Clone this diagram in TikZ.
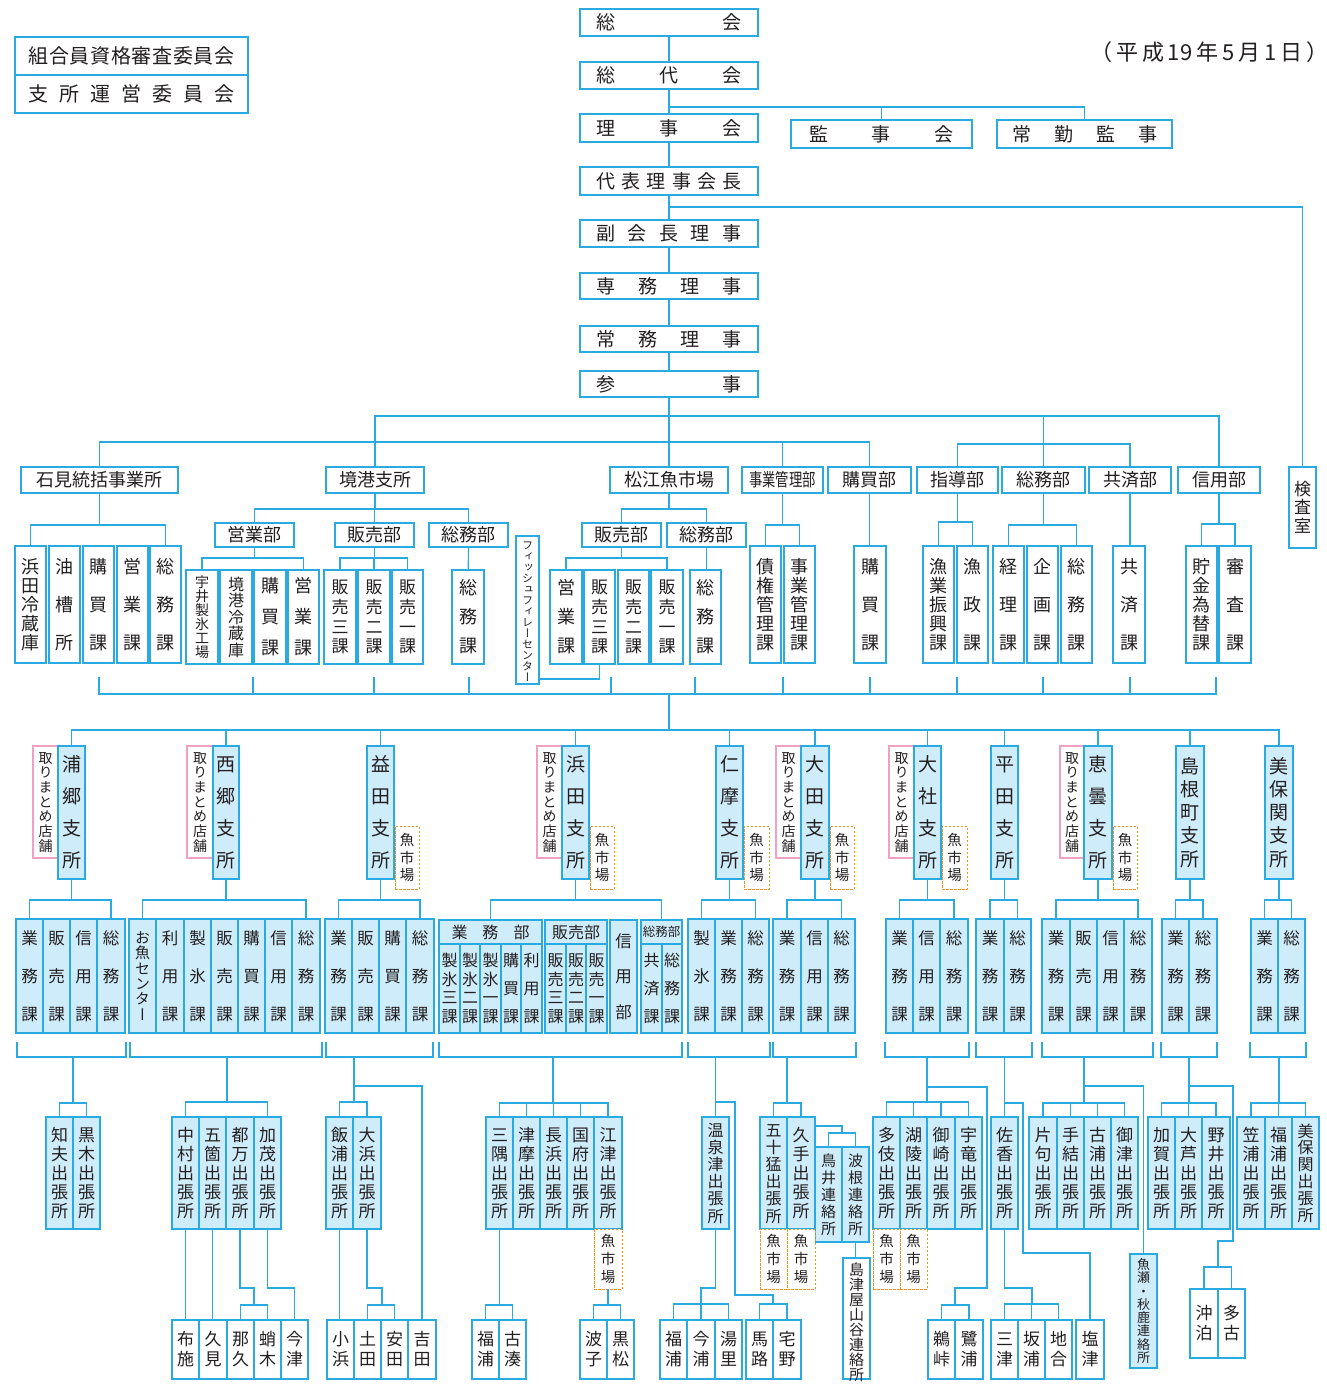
\documentclass[tikz,border=0pt]{standalone}
\usepackage{fontspec}
\usepackage{graphicx}
\setmainfont{Noto Sans CJK JP}
\newfontfamily\vjp[RawFeature=+vert]{Noto Sans CJK JP}
\definecolor{cy}{RGB}{41,171,226}
\definecolor{lb}{RGB}{206,236,250}
\definecolor{pk}{RGB}{240,160,195}
\definecolor{orn}{RGB}{247,148,30}
\definecolor{tx}{RGB}{35,31,32}
\ExplSyntaxOn
\seq_new:N \l_rs_items_seq
\NewDocumentCommand\hspread{mm}
 {
  \seq_clear:N \l_rs_items_seq
  \tl_map_inline:nn {#2} { \seq_put_right:Nn \l_rs_items_seq {##1} }
  \hbox to #1 { \seq_use:Nn \l_rs_items_seq { \hfil } }
 }
\NewDocumentCommand\vstack{mm}
 {
  \seq_clear:N \l_rs_items_seq
  \tl_map_inline:nn {#2}
   { \seq_put_right:Nn \l_rs_items_seq { \hbox to 0pt { \hss \vrule height .88em depth .12em width 0pt ##1 \hss } } }
  \vbox to #1 { \offinterlineskip \seq_use:Nn \l_rs_items_seq { \vfil } \kern 0pt }
 }
\ExplSyntaxOff
\newcommand\fs[1]{\fontsize{#1}{#1}\selectfont}
\newcommand\VT[3]{{\vjp\fs{#1}\vstack{#2pt}{#3}}}
\tikzset{
 bxs/.style={draw=cy, line width=1.3pt, fill=white, inner sep=0pt, outer sep=0pt, text=tx},
 lbx/.style={fill=lb},
 pbx/.style={draw=pk},
 fbx/.style={draw=orn, line width=1pt, dash pattern=on 2.5pt off 1.5pt},
 ln/.style={draw=cy, line width=1.2pt},
}
\newcommand\mybx[7][]{\node[bxs,#1,minimum width={(#5-#3)*1pt},minimum height={(#6-#4)*1pt}] (#2) at ({(#3+#5)/2},{(#4+#6)/2}) {#7};}
\newcommand\sbx[4]{\mybx[lbx]{#1}{#2}{919}{#3}{1033}{\VT{16.5}{92}{#4}}}
\newcommand\hsb[4]{\mybx[lbx]{#1}{#2}{944}{#3}{1033}{\VT{16}{72}{#4}}}
\newcommand\dbx[4]{\mybx[lbx]{#1}{#2}{1117}{#3}{1229}{\VT{17}{93}{#4}}}
\newcommand\leafbx[4]{\mybx{#1}{#2}{1320}{#3}{1379}{\VT{17}{37}{#4}}}
\newcommand\pinkbx[3]{\mybx[pbx]{#1}{#2}{746}{#3}{858}{\VT{14}{102}{取りまとめ店舗}}}
\newcommand\fishbx[5]{\mybx[fbx]{#1}{#2}{#3}{#4}{#5}{\VT{14.5}{50}{魚市場}}}
\newcommand\brbx[5]{\mybx[lbx]{#1}{#2}{746}{#3}{879}{\VT{19}{#4}{#5}}}
\newcommand\tallbx[4]{\mybx{#1}{#2}{546}{#3}{663}{\VT{18}{94}{#4}}}
\newcommand\mybus[4]{\draw[ln] (#1.south) -- (#1.south |- 0,#2); \draw[ln] (#3.north) |- (#4.north |- 0,#2) -- (#4.north);}
\newcommand\mydrop[2]{\draw[ln] (#1.north) -- (#1.north |- 0,#2);}
\newcommand\mybrk[2]{\draw[ln] (#1,1042) -- (#1,1057) -- (#2,1057) -- (#2,1042);}
\begin{document}
\begin{tikzpicture}[x=1pt,y=-1pt]
\fill[white] (0,0) rectangle (1326,1392);
\useasboundingbox (0,0) rectangle (1326,1392);
% ---------- top ----------
\mybx{kumiai}{15}{37}{248}{75}{\fs{20}\hspread{206pt}{組合員資格審査委員会}}
\mybx{shisho}{15}{75}{248}{113}{\fs{20}\hspread{206pt}{支所運営委員会}}
\node[anchor=west,text=tx,inner sep=0pt] (date) at (1090,52) {\fs{22}\hspread{238pt}{（平成{19}年5月1日）}};
\mybx{soukai}{580}{9}{758}{36}{\fs{19}\hspread{145pt}{総会}}
\mybx{soudai}{580}{62}{758}{89}{\fs{19}\hspread{145pt}{総代会}}
\mybx{rijikai}{580}{114}{758}{142}{\fs{19}\hspread{145pt}{理事会}}
\mybx{kanjikai}{791}{120}{972}{148}{\fs{19}\hspread{145pt}{監事会}}
\mybx{joukin}{997}{120}{1172}{148}{\fs{19}\hspread{145pt}{常勤監事}}
\mybx{daihyo}{580}{167}{758}{195}{\fs{19}\hspread{145pt}{代表理事会長}}
\mybx{fuku}{580}{220}{758}{247}{\fs{19}\hspread{145pt}{副会長理事}}
\mybx{senmu}{580}{273}{758}{299}{\fs{19}\hspread{145pt}{専務理事}}
\mybx{joumu}{580}{326}{758}{352}{\fs{19}\hspread{145pt}{常務理事}}
\mybx{sanji}{580}{371}{758}{397}{\fs{19}\hspread{145pt}{参事}}
% ---------- row 3 headers ----------
\mybx{ishimi}{21}{467}{178}{493}{\fs{18}石見統括事業所}
\mybx{sakai}{326}{467}{424}{493}{\fs{18}境港支所}
\mybx{matsue}{610}{467}{728}{493}{\fs{18}松江魚市場}
\mybx{jigyo}{742}{467}{823}{493}{\fs{18}\scalebox{0.74}[1]{事業管理部}}
\mybx{koubai}{828}{467}{911}{493}{\fs{18}購買部}
\mybx{shido}{917}{467}{998}{493}{\fs{18}指導部}
\mybx{soumuB}{1002}{467}{1085}{493}{\fs{18}総務部}
\mybx{kyosai}{1089}{467}{1171}{493}{\fs{18}共済部}
\mybx{shinyo}{1178}{467}{1260}{493}{\fs{18}信用部}
\mybx{kensa}{1289}{467}{1316}{548}{\VT{17}{54}{検査室}}
% ---------- row 3 sections ----------
\tallbx{hamaR}{15}{46}{浜田冷蔵庫}
\tallbx{yuso}{49}{80}{油槽所}
\tallbx{kobaiK}{83}{114}{購買課}
\tallbx{eigyoK}{117}{148}{営業課}
\tallbx{soumuKa}{150}{181}{総務課}
\mybx{seigyo}{215}{523}{294}{547}{\fs{18}営業部}
\mybx{shanbai}{335}{523}{414}{547}{\fs{18}販売部}
\mybx{ssoumu}{429}{523}{508}{547}{\fs{18}総務部}
\mybx{ui}{186}{570}{218}{664}{\VT{14}{84}{宇井製氷工場}}
\mybx{sakaiR}{220}{570}{252}{664}{\VT{16}{82}{境港冷蔵庫}}
\mybx{skobai}{254}{570}{286}{664}{\VT{18}{80}{購買課}}
\mybx{seigyoK}{288}{570}{319}{664}{\VT{18}{80}{営業課}}
\mybx{shanc}{324}{570}{356}{664}{\VT{17}{76}{販売三課}}
\mybx{shanb}{358}{570}{390}{664}{\VT{17}{76}{販売二課}}
\mybx{shana}{392}{570}{423}{664}{\VT{17}{76}{販売一課}}
\mybx{ssoumuK}{452}{570}{484}{664}{\VT{18}{76}{総務課}}
\mybx{fillet}{516}{536}{539}{684}{\VT{11}{140}{フィッシュフィレーセンター}}
\mybx{mhanbai}{582}{523}{661}{547}{\fs{18}販売部}
\mybx{msoumu}{667}{523}{746}{547}{\fs{18}総務部}
\mybx{meigyo}{550}{570}{582}{664}{\VT{18}{76}{営業課}}
\mybx{mhanc}{584}{570}{615}{664}{\VT{17}{76}{販売三課}}
\mybx{mhanb}{618}{570}{649}{664}{\VT{17}{76}{販売二課}}
\mybx{mhana}{651}{570}{683}{664}{\VT{17}{76}{販売一課}}
\mybx{msoumuK}{690}{570}{721}{664}{\VT{18}{76}{総務課}}
\tallbx{saiken}{750}{781}{債権管理課}
\tallbx{jigyoK}{784}{815}{事業管理課}
\tallbx{kobaiKb}{854}{886}{購買課}
\tallbx{shinko}{923}{954}{漁業振興課}
\tallbx{gyosei}{957}{988}{漁政課}
\tallbx{keiri}{993}{1024}{経理課}
\tallbx{kikaku}{1027}{1058}{企画課}
\tallbx{soumuKb}{1061}{1092}{総務課}
\tallbx{kyosaiK}{1113}{1145}{共済課}
\tallbx{chokin}{1186}{1217}{貯金為替課}
\tallbx{shinsa}{1219}{1251}{審査課}
% ---------- branches ----------
\pinkbx{uraP}{33}{58}
\pinkbx{nishiP}{187}{213}
\pinkbx{hamadaP}{537}{562}
\pinkbx{odaP}{776}{801}
\pinkbx{taishaP}{889}{914}
\pinkbx{etomoP}{1060}{1084}
\brbx{ura}{58}{85}{115}{浦郷支所}
\brbx{nishi}{213}{239}{115}{西郷支所}
\brbx{masuda}{367}{394}{115}{益田支所}
\brbx{hamada}{562}{589}{115}{浜田支所}
\brbx{nima}{716}{743}{115}{仁摩支所}
\brbx{oda}{801}{829}{115}{大田支所}
\brbx{taisha}{914}{941}{115}{大社支所}
\brbx{hirata}{991}{1018}{115}{平田支所}
\brbx{etomo}{1084}{1112}{115}{恵曇支所}
\brbx{shimane}{1176}{1204}{112}{島根町支所}
\brbx{miho}{1265}{1293}{112}{美保関支所}
\fishbx{masudaF}{395}{826}{419}{889}
\fishbx{hamadaF}{590}{826}{614}{889}
\fishbx{nimaF}{744}{826}{769}{889}
\fishbx{odaF}{830}{826}{854}{889}
\fishbx{taishaF}{942}{826}{967}{889}
\fishbx{etomoF}{1113}{826}{1137}{889}
% ---------- branch sections ----------
\sbx{ua}{16}{43}{業務課}
\sbx{ub}{43}{70}{販売課}
\sbx{uc}{70}{97}{信用課}
\sbx{ud}{97}{125}{総務課}
\mybx[lbx]{na}{129}{919}{156}{1033}{\VT{15}{92}{お魚センター}}
\sbx{nb}{156}{184}{利用課}
\sbx{nc}{184}{211}{製氷課}
\sbx{nd}{211}{238}{販売課}
\sbx{ne}{238}{265}{購買課}
\sbx{nf}{265}{292}{信用課}
\sbx{ng}{292}{320}{総務課}
\sbx{da}{325}{352}{業務課}
\sbx{db}{352}{379}{販売課}
\sbx{dc}{379}{406}{購買課}
\sbx{dd}{406}{434}{総務課}
\mybx[lbx]{hgyomu}{439}{920}{542}{944}{\fs{16}\hspread{78pt}{業務部}}
\mybx[lbx]{hhanbai}{545}{920}{607}{944}{\fs{16}販売部}
\mybx[lbx]{hshinyo}{610}{920}{637}{1033}{\VT{16.5}{88}{信用部}}
\mybx[lbx]{hsoumu}{641}{920}{682}{944}{\fs{12.5}総務部}
\hsb{hsa}{439}{460}{製氷三課}
\hsb{hsb}{460}{480}{製氷二課}
\hsb{hsc}{480}{501}{製氷一課}
\hsb{hsd}{501}{521}{購買課}
\hsb{hse}{521}{542}{利用課}
\hsb{hsf}{545}{566}{販売三課}
\hsb{hsg}{566}{586}{販売二課}
\hsb{hsh}{586}{607}{販売一課}
\hsb{hsi}{641}{662}{共済課}
\hsb{hsj}{662}{682}{総務課}
\sbx{ja}{688}{715}{製氷課}
\sbx{jb}{715}{742}{業務課}
\sbx{jc}{742}{769}{総務課}
\sbx{oa}{773}{801}{業務課}
\sbx{ob}{801}{828}{信用課}
\sbx{oc}{828}{855}{総務課}
\sbx{ta}{886}{913}{業務課}
\sbx{tb}{913}{940}{信用課}
\sbx{tc}{940}{968}{総務課}
\sbx{ra}{976}{1004}{業務課}
\sbx{rb}{1004}{1031}{総務課}
\sbx{ea}{1042}{1070}{業務課}
\sbx{eb}{1070}{1097}{販売課}
\sbx{ec}{1097}{1124}{信用課}
\sbx{ed}{1124}{1152}{総務課}
\sbx{ka}{1162}{1189}{業務課}
\sbx{kb}{1189}{1217}{総務課}
\sbx{pa}{1251}{1278}{業務課}
\sbx{pb}{1278}{1305}{総務課}
% ---------- sub offices ----------
\dbx{chibu}{46}{73}{知夫出張所}
\dbx{kuroki}{73}{100}{黒木出張所}
\dbx{nakamura}{172}{199}{中村出張所}
\dbx{goka}{199}{226}{五箇出張所}
\dbx{tsuma}{226}{254}{都万出張所}
\dbx{kamo}{254}{281}{加茂出張所}
\dbx{iiura}{326}{353}{飯浦出張所}
\dbx{ohama}{353}{381}{大浜出張所}
\dbx{sumi}{486}{513}{三隅出張所}
\dbx{tsumaB}{513}{540}{津摩出張所}
\dbx{nagahama}{540}{567}{長浜出張所}
\dbx{kokubu}{567}{594}{国府出張所}
\dbx{gotsu}{594}{622}{江津出張所}
\mybx[lbx]{yunotsu}{702}{1117}{729}{1229}{\VT{16}{102}{温泉津出張所}}
\mybx[lbx]{isotake}{760}{1117}{787}{1229}{\VT{16}{102}{五十猛出張所}}
\dbx{kute}{787}{815}{久手出張所}
\mybx[lbx]{torii}{815}{1147}{842}{1242}{\VT{15}{83}{鳥井連絡所}}
\mybx[lbx]{hane}{842}{1147}{869}{1242}{\VT{15}{83}{波根連絡所}}
\mybx{shimazu}{843}{1258}{870}{1379}{\VT{15}{112}{島津屋山谷連絡所}}
\dbx{taki}{873}{900}{多伎出張所}
\dbx{koryo}{900}{927}{湖陵出張所}
\dbx{misaki}{927}{955}{御崎出張所}
\dbx{uryu}{955}{982}{宇竜出張所}
\dbx{saka}{991}{1018}{佐香出張所}
\dbx{kataku}{1029}{1057}{片句出張所}
\dbx{tai}{1057}{1084}{手結出張所}
\dbx{koura}{1084}{1111}{古浦出張所}
\dbx{mitsu}{1111}{1138}{御津出張所}
\mybx[lbx]{uose}{1130}{1254}{1157}{1368}{\VT{13}{106}{魚瀬・秋鹿連絡所}}
\dbx{kaga}{1148}{1175}{加賀出張所}
\dbx{oashi}{1175}{1202}{大芦出張所}
\dbx{noi}{1202}{1230}{野井出張所}
\dbx{kasaura}{1237}{1265}{笠浦出張所}
\dbx{fukuura}{1265}{1292}{福浦出張所}
\mybx[lbx]{mihoseki}{1292}{1117}{1319}{1229}{\VT{16}{100}{美保関出張所}}
\fishbx{gotsuF}{594}{1229}{622}{1289}
\fishbx{isotakeF}{760}{1229}{787}{1289}
\fishbx{kuteF}{787}{1229}{815}{1289}
\fishbx{takiF}{873}{1229}{900}{1289}
\fishbx{koryoF}{900}{1229}{927}{1289}
% ---------- leaves ----------
\leafbx{fuse}{172}{199}{布施}
\leafbx{kumi}{199}{227}{久見}
\leafbx{naku}{227}{254}{那久}
\leafbx{shijiki}{254}{281}{蛸木}
\leafbx{imazu}{281}{308}{今津}
\leafbx{kohama}{327}{354}{小浜}
\leafbx{hijita}{354}{381}{土田}
\leafbx{yasuda}{381}{408}{安田}
\leafbx{yoshida}{408}{436}{吉田}
\leafbx{fukura}{472}{499}{福浦}
\leafbx{kominato}{499}{526}{古湊}
\leafbx{hashi}{580}{607}{波子}
\leafbx{kuromatsu}{607}{634}{黒松}
\leafbx{fukurab}{660}{687}{福浦}
\leafbx{imaura}{687}{715}{今浦}
\leafbx{yusato}{715}{742}{湯里}
\leafbx{maji}{746}{773}{馬路}
\leafbx{takuno}{773}{801}{宅野}
\leafbx{udo}{928}{955}{鵜峠}
\leafbx{sagiura}{955}{983}{鷺浦}
\leafbx{mitsub}{991}{1018}{三津}
\leafbx{sakaura}{1018}{1045}{坂浦}
\leafbx{jiai}{1045}{1072}{地合}
\leafbx{shiotsu}{1076}{1104}{塩津}
\mybx{okidomari}{1190}{1289}{1218}{1358}{\VT{17}{37}{沖泊}}
\mybx{tako}{1218}{1289}{1245}{1358}{\VT{17}{37}{多古}}
% ================= connectors =================
\draw[ln] (soukai) -- (soudai);
\draw[ln] (soudai) -- (rijikai);
\draw[ln] (soudai.south |- 0,107) -| (kanjikai.north);
\draw[ln] (kanjikai.north |- 0,107) -| (joukin.north);
\draw[ln] (rijikai) -- (daihyo);
\draw[ln] (daihyo) -- (fuku);
\draw[ln] (daihyo.south |- 0,207) -| (kensa.north);
\draw[ln] (fuku) -- (senmu);
\draw[ln] (senmu) -- (joumu);
\draw[ln] (joumu) -- (sanji);
\draw[ln] (sanji) -- (matsue);
\draw[ln] (sakai.north) |- (shinyo.north |- 0,416) -- (shinyo.north);
\draw[ln] (ishimi.north) |- (koubai.north |- 0,442) -- (koubai.north);
\mydrop{jigyo}{442}
\draw[ln] (soumuB.north) -- (soumuB.north |- 0,416);
\draw[ln] (shido.north) |- (kyosai.north |- 0,444) -- (kyosai.north);
% row 3
\mybus{ishimi}{525}{hamaR}{soumuKa}
\mybus{sakai}{509}{seigyo}{ssoumu}
\mydrop{shanbai}{509}
\mybus{seigyo}{558}{ui}{seigyoK}
\mybus{shanbai}{558}{shanc}{shana}
\mydrop{shanb}{558}
\draw[ln] (ssoumu) -- (ssoumuK);
\mybus{matsue}{509}{mhanbai}{msoumu}
\mybus{mhanbai}{558}{meigyo}{mhana}
\draw[ln] (msoumu.south) -- (msoumu.south |- msoumuK.north);
\draw[ln] (mhanc.south) |- (fillet.east |- 0,679);
\mybus{jigyo}{525}{saiken}{jigyoK}
\draw[ln] (koubai.south) -- (koubai.south |- kobaiKb.north);
\mybus{shido}{522}{shinko}{gyosei}
\mybus{soumuB}{525}{keiri}{soumuKb}
\draw[ln] (kyosai.south) -- (kyosai.south |- kyosaiK.north);
\mybus{shinyo}{524}{chokin}{shinsa}
% collector
\coordinate (colL) at (99,677);
\coordinate (colR) at (1216,677);
\coordinate (colM) at (669,694);
\draw[ln] (colL) -- (99,694) -- (1216,694) -- (colR);
\foreach \x in {253,374,469,611,695,783,870,957,1043,1130} \draw[ln] (\x,677) -- (\x,694);
\draw[ln] (colM) -- (669,730);
% branch bus
\draw[ln] (ura.north) |- (miho.north |- 0,730) -- (miho.north);
\foreach \b in {nishi,masuda,hamada,nima,oda,taisha,hirata,etomo,shimane} {\mydrop{\b}{730}}
% branch -> sections
\mybus{ura}{900}{ua}{ud}
\mybus{nishi}{900}{na}{ng}
\mybus{masuda}{900}{da}{dd}
\mybus{hamada}{900}{hgyomu}{hsoumu}
\mybus{nima}{900}{ja}{jc}
\mybus{oda}{900}{oa}{oc}
\mybus{taisha}{900}{ta}{tc}
\mybus{hirata}{900}{ra}{rb}
\mybus{etomo}{900}{ea}{ed}
\mybus{shimane}{900}{ka}{kb}
\mybus{miho}{900}{pa}{pb}
% brackets
\mybrk{17}{126}
\mybrk{130}{322}
\mybrk{326}{433}
\mybrk{439}{682}
\mybrk{688}{770}
\mybrk{773}{856}
\mybrk{885}{969}
\mybrk{976}{1032}
\mybrk{1042}{1153}
\mybrk{1161}{1217}
\mybrk{1250}{1306}
% ura
\draw[ln] (73,1057) -- (73,1103);
\draw[ln] (chibu.north) |- (kuroki.north |- 0,1103) -- (kuroki.north);
% nishi
\draw[ln] (227,1057) -- (227,1102);
\draw[ln] (nakamura.north) |- (kamo.north |- 0,1102) -- (kamo.north);
\draw[ln] (nakamura) -- (fuse);
\draw[ln] (goka.south) -- (goka.south |- kumi.north);
\draw[ln] (tsuma.south) -- (tsuma.south |- 0,1288) -- (254,1288) -- (254,1305);
\draw[ln] (naku.north) |- (shijiki.north |- 0,1305) -- (shijiki.north);
\draw[ln] (kamo.south) |- (imazu.north |- 0,1288) -- (imazu.north);
% masuda
\draw[ln] (354,1057) -- (354,1102);
\draw[ln] (iiura.north) |- (ohama.north |- 0,1102) -- (ohama.north);
\draw[ln] (354,1086) -| (yoshida.north);
\draw[ln] (iiura.south) -- (iiura.south |- kohama.north);
\draw[ln] (ohama.south) -- (ohama.south |- 0,1288) -- (382,1288) -- (382,1305);
\draw[ln] (hijita.north) |- (yasuda.north |- 0,1305) -- (yasuda.north);
% hamada
\draw[ln] (553,1057) -- (553,1103);
\draw[ln] (sumi.north) |- (gotsu.north |- 0,1103) -- (gotsu.north);
\mydrop{tsumaB}{1103}
\mydrop{nagahama}{1103}
\mydrop{kokubu}{1103}
\draw[ln] (sumi.south) -- (sumi.south |- 0,1305);
\draw[ln] (fukura.north) |- (kominato.north |- 0,1305) -- (kominato.north);
\draw[ln] (gotsuF.south) -- (gotsuF.south |- 0,1305);
\draw[ln] (hashi.north) |- (kuromatsu.north |- 0,1305) -- (kuromatsu.north);
% nima
\draw[ln] (yunotsu.north |- 0,1057) -- (yunotsu.north);
\draw[ln] (yunotsu.north |- 0,1102) -- (735,1102) -- (735,1295) -- (773,1295) -- (773,1304);
\draw[ln] (maji.north) |- (takuno.north |- 0,1304) -- (takuno.north);
\draw[ln] (yunotsu.south) -- (yunotsu.south |- 0,1288) -- (701,1288) -- (701,1304);
\draw[ln] (fukurab.north) |- (yusato.north |- 0,1304) -- (yusato.north);
\mydrop{imaura}{1304}
% oda
\draw[ln] (787,1057) -- (787,1103);
\draw[ln] (isotake.north) |- (kute.north |- 0,1103) -- (kute.north);
\draw[ln] (kute.east |- 0,1126) -- (842,1126) -- (842,1133);
\draw[ln] (torii.north) |- (hane.north |- 0,1133) -- (hane.north);
\draw[ln] (hane.south) -- (hane.south |- shimazu.north);
% taisha
\draw[ln] (927,1057) -- (927,1102);
\draw[ln] (taki.north) |- (uryu.north |- 0,1102) -- (uryu.north);
\mydrop{koryo}{1102}
\mydrop{misaki}{1102}
\draw[ln] (927,1087) -- (987,1087) -- (987,1288) -- (955,1288) -- (955,1305);
\draw[ln] (udo.north) |- (sagiura.north |- 0,1305) -- (sagiura.north);
% hirata
\draw[ln] (saka.north |- 0,1057) -- (saka.north);
\draw[ln] (saka.north |- 0,1103) -- (1023,1103) -- (1023,1253) -| (shiotsu.north);
\draw[ln] (saka.south) -- (saka.south |- 0,1288) -- (1032,1288) -- (1032,1304);
\draw[ln] (mitsub.north) |- (jiai.north |- 0,1304) -- (jiai.north);
\mydrop{sakaura}{1304}
% etomo
\draw[ln] (1084,1057) -- (1084,1103);
\draw[ln] (kataku.north) |- (mitsu.north |- 0,1103) -- (mitsu.north);
\mydrop{tai}{1103}
\mydrop{koura}{1103}
\draw[ln] (1084,1086) -| (uose.north);
% shimane
\draw[ln] (1189,1057) -- (1189,1103);
\draw[ln] (kaga.north) |- (noi.north |- 0,1103) -- (noi.north);
\mydrop{oashi}{1103}
\draw[ln] (1189,1086) -- (1233,1086) -- (1233,1241) -- (1218,1241) -- (1218,1267);
\draw[ln] (okidomari.north) |- (tako.north |- 0,1267) -- (tako.north);
% miho
\draw[ln] (1279,1057) -- (1279,1103);
\draw[ln] (kasaura.north) |- (mihoseki.north |- 0,1103) -- (mihoseki.north);
\mydrop{fukuura}{1103}
\end{tikzpicture}
\end{document}
